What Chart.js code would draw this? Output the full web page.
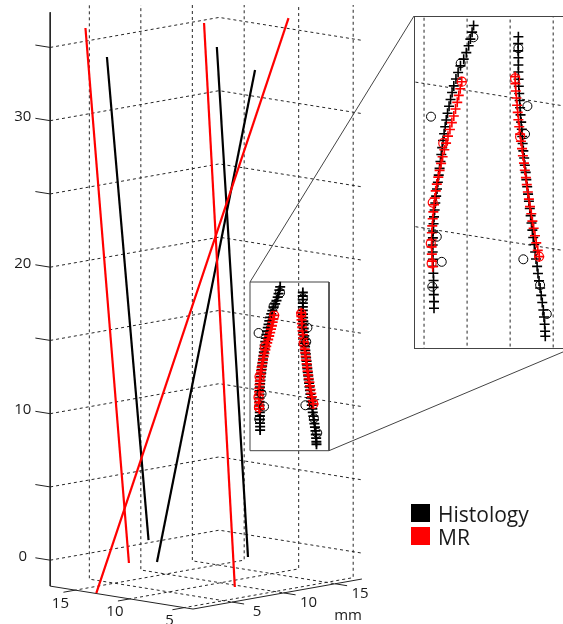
<!DOCTYPE html>
<html>
<head>
<meta charset="utf-8">
<title>Histology vs MR tracks</title>
<script src="https://cdn.jsdelivr.net/npm/chart.js@4.4.1/dist/chart.umd.min.js"></script>
<style>
  html, body { margin: 0; padding: 0; background: #fff; }
  #page { position: relative; width: 563px; height: 624px; overflow: hidden; }
  #main { position: absolute; left: 0; top: 0; }
  #zoom { position: absolute; left: 414px; top: 16px; }
</style>
</head>
<body>
<div id="page">
  <canvas id="main" width="563" height="624"></canvas>
  <canvas id="zoom" width="156" height="333"></canvas>
</div>
<script>
// ---- axes (mm) ----
const xTicks = [5, 10, 15];
const yTicks = [5, 10, 15];
const zTicks = [0, 5, 10, 15, 20, 25, 30, 35];
const zTickLabels = ['0', '', '10', '', '20', '', '30', ''];
const zoomXTicks = [8, 10, 12, 14];
const yAxisTitle = 'mm';
const xLim = [4.2, 17.3];
const yLim = [1.2, 17.6];
const zLim = [-1.77, 37.4];

const seriesNames = ['Histology', 'MR'];
const seriesColors = ['#000000', '#ff0000'];

// ---- needle tracks, [X, Y, Z] top then bottom ----
const histologyLines = [
  [[15.94, 5.27, 34], [14.04, 7.3, 1]],
  [[9.38, 9.0, 35], [8.63, 11.23, 0]],
  [[9.25, 12.57, 33], [11.66, 5.6, 0]]
];
const mrLines = [
  [[16.9, 4.2, 36], [12.74, 4.02, 0]],
  [[12.54, 11.1, 36], [7.07, 8.3, -1.5]],
  [[5.83, 12.2, 37], [13.2, 1.34, -1.77]]
];

// ---- sampled points of the two cannulae (zoomed part), all at depth Y ----
const trackY = 15;
const histLeftZ = [17.90, 17.66, 17.41, 17.17, 16.92, 16.68, 16.43, 16.19, 15.95, 15.70, 15.46, 15.21, 14.97, 14.72, 14.48, 14.24, 13.99, 13.75, 13.50, 13.26, 13.01, 12.77, 12.53, 12.28, 12.04, 11.79, 11.55, 11.30, 11.06, 10.82, 10.57, 10.33, 10.08, 9.84, 9.59, 9.35, 9.11, 8.86, 8.62, 8.37, 8.13, 7.90];
const histLeftX = [9.24, 9.31, 9.39, 9.47, 9.58, 9.70, 9.85, 9.96, 10.06, 10.16, 10.24, 10.31, 10.38, 10.45, 10.51, 10.56, 10.61, 10.66, 10.70, 10.74, 10.78, 10.82, 10.86, 10.90, 10.94, 10.98, 11.02, 11.05, 11.08, 11.10, 11.12, 11.13, 11.14, 11.14, 11.13, 11.12, 11.11, 11.10, 11.10, 11.09, 11.08, 11.08];
const histRightZ = [17.76, 17.52, 17.27, 17.03, 16.78, 16.54, 16.29, 16.05, 15.80, 15.56, 15.31, 15.07, 14.82, 14.58, 14.33, 14.09, 13.84, 13.60, 13.35, 13.11, 12.86, 12.62, 12.37, 12.13, 11.88, 11.64, 11.39, 11.15, 10.90, 10.66, 10.41, 10.17, 9.92, 9.68, 9.43, 9.19, 8.94, 8.70, 8.45, 8.21, 7.96, 7.72, 7.55];
const histRightX = [7.16, 7.17, 7.17, 7.16, 7.16, 7.16, 7.15, 7.14, 7.12, 7.10, 7.08, 7.06, 7.03, 7.00, 6.98, 6.96, 6.93, 6.89, 6.86, 6.82, 6.79, 6.75, 6.71, 6.67, 6.63, 6.59, 6.55, 6.51, 6.47, 6.42, 6.38, 6.34, 6.29, 6.25, 6.20, 6.15, 6.10, 6.05, 6.00, 5.97, 5.94, 5.92, 5.91];
const mrLeftZ = [15.89, 15.64, 15.40, 15.15, 14.91, 14.66, 14.42, 14.17, 13.93, 13.68, 13.44, 13.19, 12.95, 12.70, 12.46, 12.21, 11.97, 11.72, 11.48, 11.23, 10.99, 10.74, 10.50, 10.25, 10.01, 9.76, 9.52, 9.33];
const mrLeftX = [9.79, 9.86, 9.93, 10.00, 10.08, 10.16, 10.25, 10.34, 10.43, 10.52, 10.60, 10.68, 10.75, 10.82, 10.88, 10.95, 11.00, 11.04, 11.08, 11.11, 11.14, 11.16, 11.18, 11.19, 11.19, 11.18, 11.16, 11.14];
const mrRightZ = [16.36, 16.12, 15.87, 15.63, 15.38, 15.14, 14.89, 14.65, 14.40, 14.16, 13.91, 13.67, 13.42, 13.18, 12.93, 12.69, 12.44, 12.20, 11.95, 11.71, 11.46, 11.22, 10.97, 10.73, 10.48, 10.27];
const mrRightX = [7.31, 7.30, 7.28, 7.25, 7.22, 7.19, 7.16, 7.12, 7.08, 7.04, 6.99, 6.95, 6.90, 6.86, 6.81, 6.77, 6.72, 6.67, 6.62, 6.56, 6.51, 6.45, 6.39, 6.33, 6.26, 6.19];
const mrRingX = [9.79, 10.65, 11.14, 11.23, 11.19, 7.31, 7.08, 6.20];
const mrRingZ = [15.89, 13.66, 11.55, 10.13, 9.44, 16.30, 14.31, 10.27];
const histRingX = [9.25, 9.84, 11.22, 10.95, 10.72, 11.16, 7.16, 6.74, 6.85, 6.93, 6.15, 5.84];
const histRingZ = [17.49, 16.52, 14.51, 10.39, 9.55, 8.64, 17.36, 15.41, 14.43, 10.09, 9.29, 8.33];

// ---- layout ----
// screen units per mm for the 3D view
const view = { ox: 226.4, oy: 592.65, xx: -10.9, xy: -1.75, yx: 10.3, yy: -1.83, zy: -14.65 };
const zTickLen = 1.36, xTickLen = 1.15, yTickLen = 1.1;
const zoomWin = { x0: 250, y0: 282, x1: 329, y1: 450.7 };
const zoomPanel = { left: 414, top: 16, width: 156, height: 333 };
const topCrop = 5;
const GAP = { x: null, y: null };
const FONT = '"Open Sans", "Noto Sans", sans-serif';

function proj(X, Y, Z) {
  return {
    x: view.ox + X * view.xx + Y * view.yx,
    y: view.oy + X * view.xy + Y * view.yy + Z * view.zy
  };
}

function gridPoints(xt, yt) {
  const [x0, x1] = xLim, [y0, y1] = yLim, [z0, z1] = zLim;
  let pts = [];
  zTicks.forEach(z => pts.push(proj(x1, y0, z), proj(x1, y1, z), proj(x0, y1, z), GAP));
  yt.forEach(y => pts.push(proj(x1, y, z1), proj(x1, y, z0), proj(x0, y, z0), GAP));
  xt.forEach(x => pts.push(proj(x, y1, z1), proj(x, y1, z0), proj(x, y0, z0), GAP));
  return pts;
}

function axisPoints() {
  const [x0, x1] = xLim, [y0, y1] = yLim, [z0, z1] = zLim;
  let pts = [proj(x1, y0, z1), proj(x1, y0, z0), proj(x0, y0, z0), proj(x0, y1, z0), GAP];
  zTicks.forEach(z => pts.push(proj(x1, y0, z), proj(x1 + zTickLen, y0, z), GAP));
  xTicks.forEach(x => pts.push(proj(x, y0, z0), proj(x, y0 - xTickLen, z0), GAP));
  yTicks.forEach(y => pts.push(proj(x0, y, z0), proj(x0 - yTickLen, y, z0), GAP));
  return pts;
}

const onTrack = (X, Z) => X.map((x, i) => proj(x, trackY, Z[i]));

function line(data, color, width, dash) {
  return { data, showLine: true, pointRadius: 0, borderColor: color, borderWidth: width,
           borderDash: dash || [], tension: 0, fill: false, spanGaps: false };
}
function markers(data, color, style, r, w) {
  return { data, showLine: false, pointStyle: style, pointRadius: r, pointHoverRadius: r,
           borderColor: color, backgroundColor: 'rgba(0,0,0,0)', pointBorderWidth: w };
}

// datasets listed bottom -> top
function scene(isZoom) {
  let sets = [];
  const cw = isZoom ? 1.6 : 1.8;
  sets.push(line(isZoom ? gridPoints(zoomXTicks, []) : gridPoints(xTicks, yTicks), '#262626', 1, [3, 3]));
  if (!isZoom) {
    sets.push(line(axisPoints(), '#222', 1));
    histologyLines.forEach(l => sets.push(line(l.map(p => proj(...p)), seriesColors[0], 2.2)));
    mrLines.forEach(l => sets.push(line(l.map(p => proj(...p)), seriesColors[1], 2.2)));
    const w = zoomWin;
    sets.push(line([{ x: w.x0, y: w.y0 }, { x: w.x1, y: w.y0 }, { x: w.x1, y: w.y1 }, { x: w.x0, y: w.y1 }, { x: w.x0, y: w.y0 }, GAP,
                    { x: w.x0, y: w.y0 }, { x: zoomPanel.left, y: zoomPanel.top }, GAP,
                    { x: w.x1, y: w.y1 }, { x: zoomPanel.left + zoomPanel.width, y: zoomPanel.top + zoomPanel.height }], '#444', 1));
  }
  sets.push(markers(onTrack(histLeftX, histLeftZ).concat(onTrack(histRightX, histRightZ)), seriesColors[0], 'cross', 5, cw));
  sets.push(markers(onTrack(mrLeftX, mrLeftZ).concat(onTrack(mrRightX, mrRightZ)), seriesColors[1], 'cross', 5, cw));
  sets.push(markers(onTrack(mrRingX, mrRingZ), seriesColors[1], 'circle', 4.5, 1.2));
  sets.push(markers(onTrack(histRingX, histRingZ), seriesColors[0], 'circle', 4.5, 1));
  return sets.reverse();
}

function baseOptions(xmin, xmax, ymin, ymax, padTop) {
  return {
    responsive: false, animation: false, events: [],
    layout: { padding: { top: padTop, left: 0, right: 0, bottom: 0 }, autoPadding: false },
    plugins: { legend: { display: false }, tooltip: { enabled: false } },
    scales: {
      x: { type: 'linear', min: xmin, max: xmax, display: false },
      y: { type: 'linear', min: ymin, max: ymax, reverse: true, display: false }
    }
  };
}

const axisText = {
  id: 'axisText',
  afterDraw(chart) {
    const { ctx } = chart;
    const sx = chart.scales.x, sy = chart.scales.y;
    const px = p => ({ x: sx.getPixelForValue(p.x), y: sy.getPixelForValue(p.y) });
    ctx.save();
    ctx.fillStyle = '#1a1a1a';
    ctx.font = '15px ' + FONT;
    ctx.textAlign = 'center';
    ctx.textBaseline = 'middle';
    zTicks.forEach((z, i) => {
      if (!zTickLabels[i]) return;
      const p = px(proj(xLim[1] + zTickLen, yLim[0], z));
      ctx.fillText(zTickLabels[i], p.x - 12.5, p.y - 1.5);
    });
    xTicks.forEach(x => {
      const p = px(proj(x, yLim[0] - xTickLen, zLim[0]));
      ctx.fillText(String(x), p.x - 3, p.y + 11);
    });
    yTicks.forEach(y => {
      const p = px(proj(xLim[0] - yTickLen, y, zLim[0]));
      ctx.fillText(String(y), p.x + 13, p.y + 8);
    });
    const u = px(proj(xLim[0] - yTickLen, yTicks[yTicks.length - 1], zLim[0]));
    ctx.fillText(yAxisTitle, u.x + 1, u.y + 30);

    // legend
    ctx.textAlign = 'left';
    ctx.textBaseline = 'alphabetic';
    ctx.font = '21px ' + FONT;
    seriesNames.forEach((name, i) => {
      const top = 504 + i * 23;
      ctx.fillStyle = seriesColors[i];
      ctx.fillRect(411, top, 19, 18);
      ctx.fillStyle = '#1a1a1a';
      ctx.fillText(name, 438, top + 18);
    });
    ctx.restore();
  }
};

const panelFrame = {
  id: 'panelFrame',
  afterDraw(chart) {
    const { ctx, width, height } = chart;
    ctx.save();
    ctx.strokeStyle = '#444';
    ctx.lineWidth = 1;
    ctx.strokeRect(0.5, 0.5, width - 1, height - 1);
    ctx.restore();
  }
};

new Chart(document.getElementById('main'), {
  type: 'scatter',
  data: { datasets: scene(false) },
  options: baseOptions(0, 563, topCrop, 624, topCrop),
  plugins: [axisText]
});

new Chart(document.getElementById('zoom'), {
  type: 'scatter',
  data: { datasets: scene(true) },
  options: baseOptions(zoomWin.x0, zoomWin.x1, zoomWin.y0, zoomWin.y1, 0),
  plugins: [panelFrame]
});
</script>
</body>
</html>
